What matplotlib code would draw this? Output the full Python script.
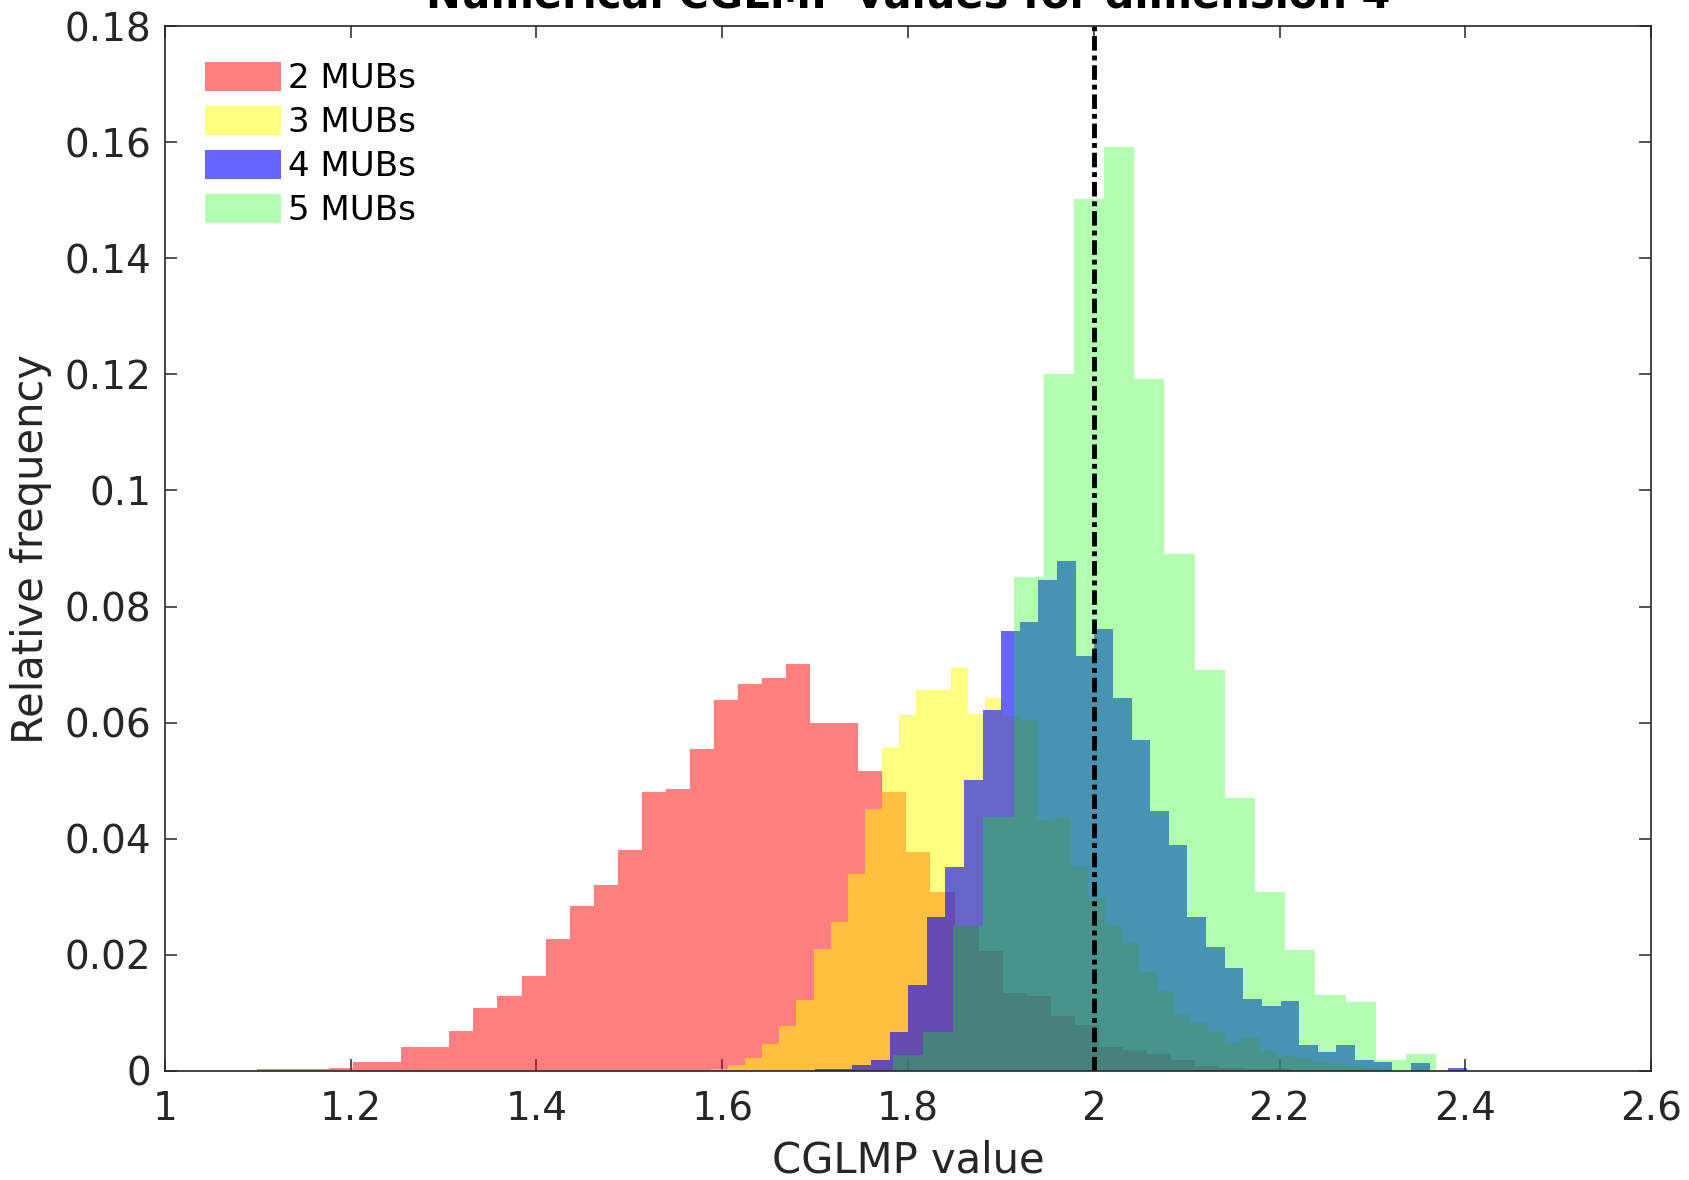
import numpy as np
import matplotlib
matplotlib.use("Agg")
import matplotlib.pyplot as plt

# ---------------- data ----------------
TITLE = "Numerical CGLMP values for dimension 4"
X_LABEL = "CGLMP value"
Y_LABEL = "Relative frequency"
LABELS = ["2 MUBs", "3 MUBs", "4 MUBs", "5 MUBs"]
COLORS = ["#ff0000", "#ffff00", "#0000ff", "#00ff00"]
ALPHAS = [0.5, 0.5, 0.6, 0.3]

# bin layout (first edge, bin width) of each histogram
RED_START, RED_WIDTH = 1.099, 0.0259
YELLOW_START, YELLOW_WIDTH = 1.5875, 0.01847
BLUE_START, BLUE_WIDTH = 1.6999, 0.02005
GREEN_START, GREEN_WIDTH = 1.7836, 0.0325

RED_FREQ = [0.0003, 0.0003, 0.0003, 0.0005, 0.0015, 0.0015, 0.0042, 0.0042,
            0.0069, 0.0108, 0.0130, 0.0164, 0.0227, 0.0285, 0.0320, 0.0381,
            0.0480, 0.0485, 0.0554, 0.0639, 0.0666, 0.0677, 0.0701, 0.0599,
            0.0600, 0.0516, 0.0480, 0.0378, 0.0309, 0.0249, 0.0206, 0.0134,
            0.0129, 0.0095, 0.0079, 0.0042, 0.0036, 0.0029, 0.0019, 0.0009,
            0.0005, 0.0004, 0.0003]
YELLOW_FREQ = [0.0003, 0.0010, 0.0022, 0.0047, 0.0078, 0.0122, 0.0210, 0.0257,
               0.0339, 0.0451, 0.0557, 0.0613, 0.0656, 0.0656, 0.0695, 0.0615,
               0.0643, 0.0611, 0.0605, 0.0433, 0.0437, 0.0352, 0.0298, 0.0252,
               0.0220, 0.0171, 0.0138, 0.0096, 0.0083, 0.0068, 0.0049, 0.0057,
               0.0034, 0.0026, 0.0022, 0.0015, 0.0012, 0.0008, 0.0005]
BLUE_FREQ = [0.0003, 0.0003, 0.0010, 0.0019, 0.0068, 0.0148, 0.0266, 0.0352,
             0.0501, 0.0622, 0.0758, 0.0774, 0.0845, 0.0878, 0.0714, 0.0762,
             0.0642, 0.0570, 0.0447, 0.0389, 0.0266, 0.0214, 0.0177, 0.0124,
             0.0112, 0.0120, 0.0045, 0.0033, 0.0045, 0.0019, 0.0016, 0.0000,
             0.0013, 0.0000, 0.0005]
GREEN_FREQ = [0.0028, 0.0068, 0.0249, 0.0438, 0.0851, 0.1201, 0.1502, 0.1591,
              0.1192, 0.0891, 0.0690, 0.0470, 0.0309, 0.0208, 0.0131, 0.0119,
              0.0019, 0.0029]

X_TICKS = [1.0, 1.2, 1.4, 1.6, 1.8, 2.0, 2.2, 2.4, 2.6]
Y_TICKS = [0.0, 0.02, 0.04, 0.06, 0.08, 0.10, 0.12, 0.14, 0.16, 0.18]
X_LIM = (1.0, 2.6)
Y_LIM = (0.0, 0.18)
REF_VALUE = 2.0

# ---------------- drawing ----------------
plt.rcParams['font.family'] = ['DejaVu Sans']
AX_COLOR = "#262626"

fig = plt.figure(figsize=(16.89, 11.80), dpi=100)
ax = fig.add_axes([165 / 1689, 1 - 1071 / 1180, 1486 / 1689, 1045 / 1180])

series = [(RED_START, RED_WIDTH, RED_FREQ),
          (YELLOW_START, YELLOW_WIDTH, YELLOW_FREQ),
          (BLUE_START, BLUE_WIDTH, BLUE_FREQ),
          (GREEN_START, GREEN_WIDTH, GREEN_FREQ)]

for (start, width, freq), color, alpha, label in zip(series, COLORS, ALPHAS, LABELS):
    edges = start + width * np.arange(len(freq) + 1)
    ax.stairs(freq, edges, fill=True, color=color, alpha=alpha,
              linewidth=0, label=label, zorder=2)

ax.axvline(REF_VALUE, color="black", linewidth=3.5, dashes=[3, 1, 1, 1], zorder=3)

ax.set_xlim(*X_LIM)
ax.set_ylim(*Y_LIM)
ax.set_xticks(X_TICKS)
ax.set_xticklabels([f"{v:g}" for v in X_TICKS])
ax.set_yticks(Y_TICKS)
ax.set_yticklabels([f"{v:g}" for v in Y_TICKS])

ax.tick_params(axis="both", which="major", direction="in", length=8.5, width=1.1,
               colors=AX_COLOR, labelsize=28, top=True, right=True)
ax.tick_params(axis="x", pad=14)
ax.tick_params(axis="y", pad=10)
for sp in ax.spines.values():
    sp.set_color(AX_COLOR)
    sp.set_linewidth(1.2)
    sp.set_zorder(4)

ax.set_xlabel(X_LABEL, fontsize=30, color=AX_COLOR, labelpad=8)
ax.set_ylabel(Y_LABEL, fontsize=30, color=AX_COLOR, labelpad=9)
ax.set_title(TITLE, fontsize=30, fontweight="bold", color="black", pad=13)

leg = ax.legend(loc="upper left", bbox_to_anchor=(0.027, 0.966), frameon=False,
                fontsize=24.5, handlelength=2.23, handleheight=0.94,
                handletextpad=0.22, labelspacing=0.32, borderpad=0,
                borderaxespad=0)

fig.savefig("out.png", dpi=100)
